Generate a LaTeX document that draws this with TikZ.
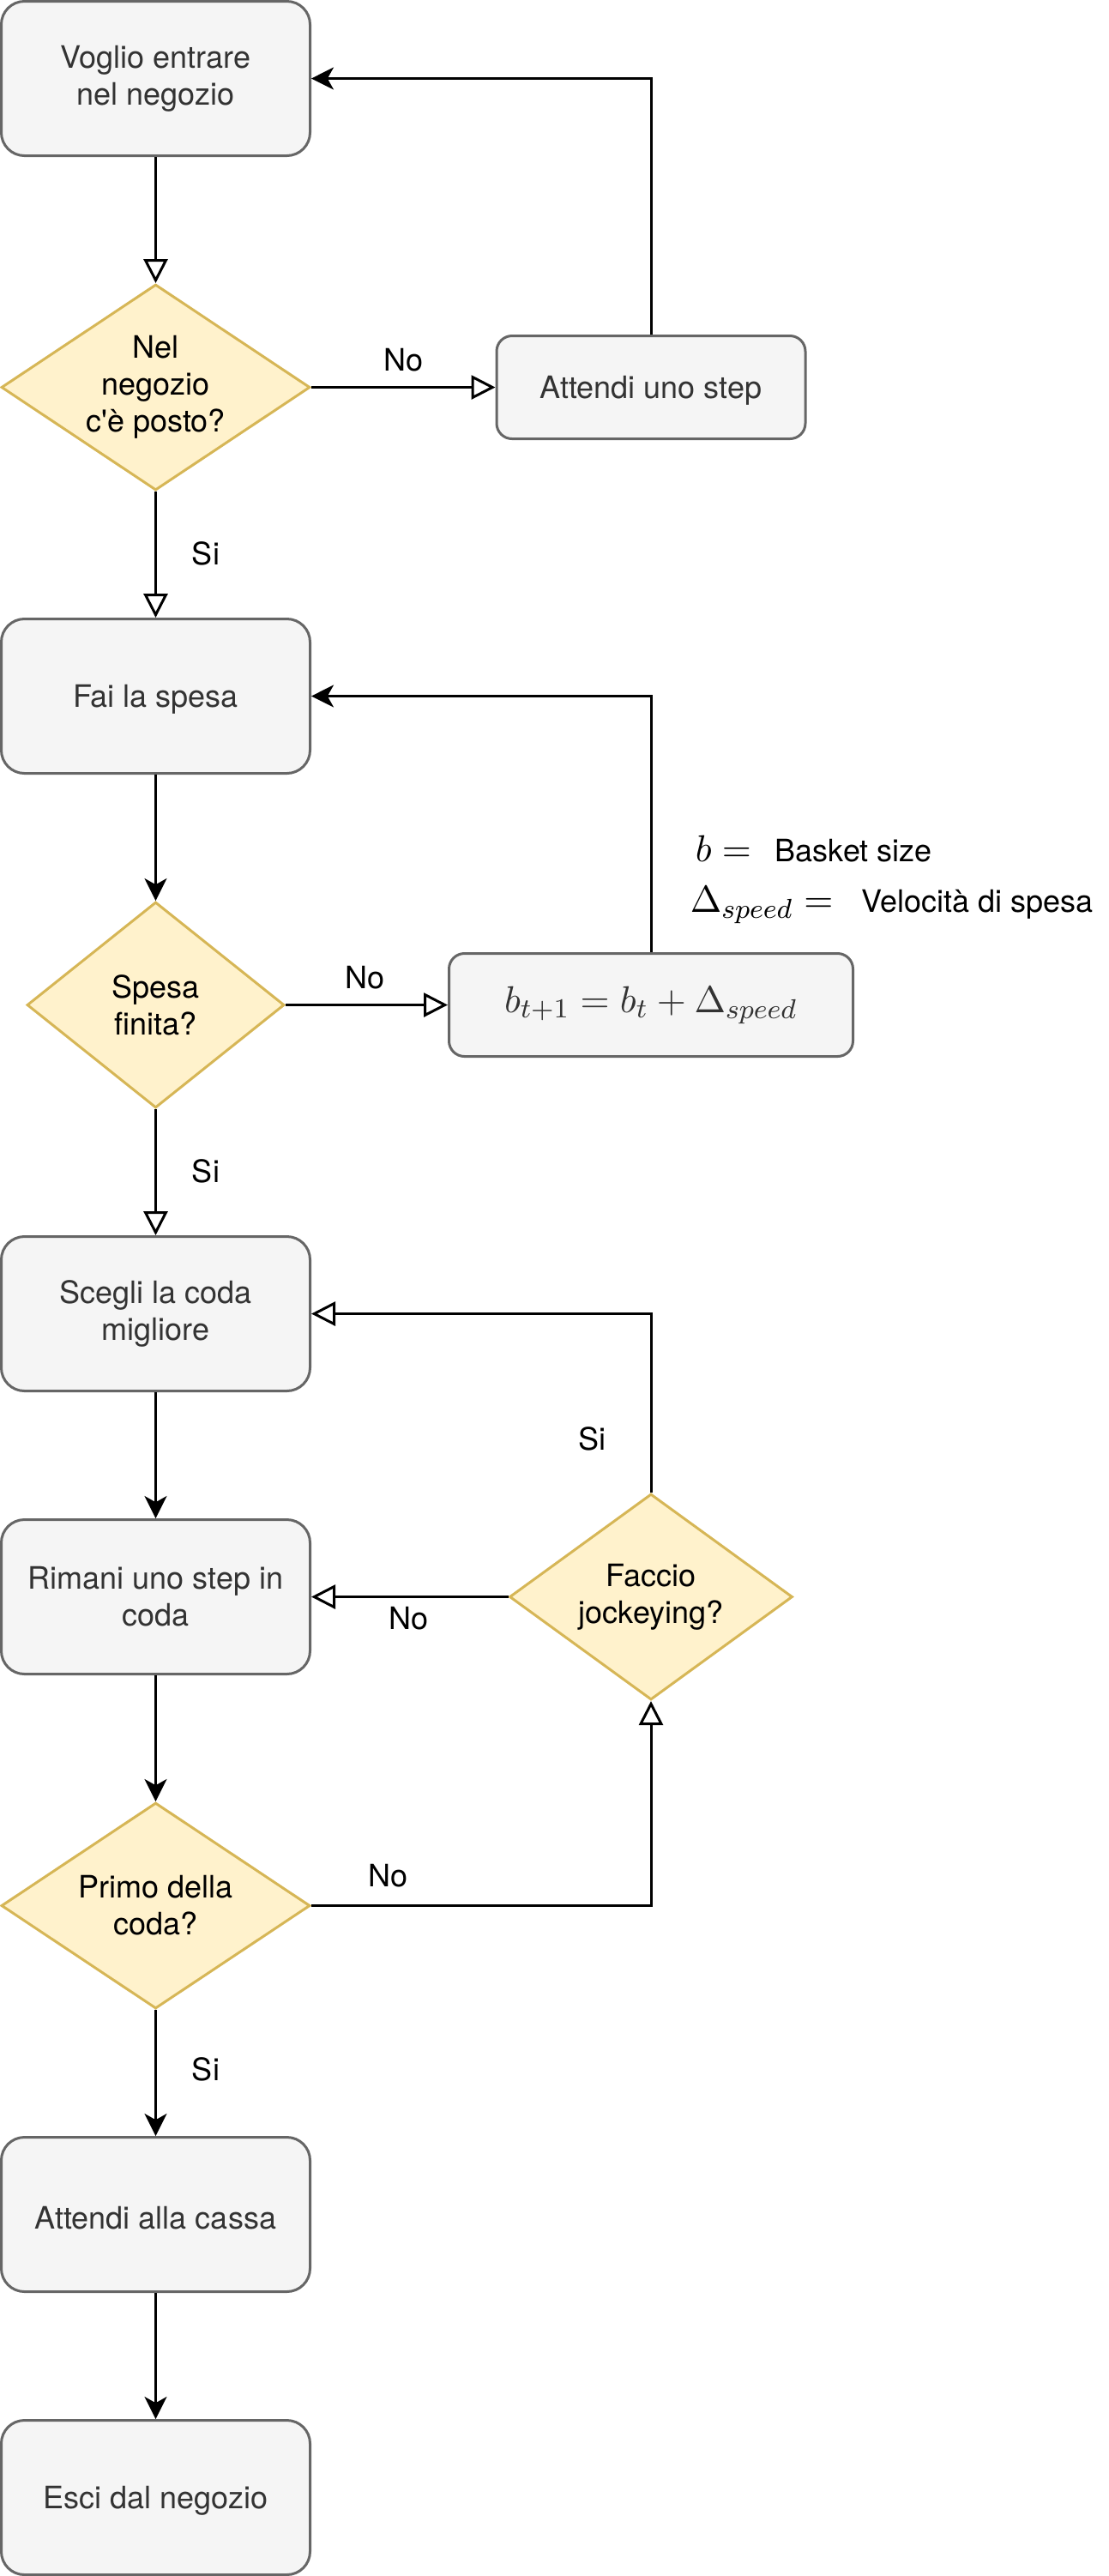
\documentclass[tikz,border=0pt]{standalone}
\usepackage[no-math]{fontspec}
\setmainfont{TeX Gyre Heros}
\usetikzlibrary{shapes.geometric,arrows.meta}
\definecolor{boxfill}{HTML}{F5F5F5}
\definecolor{boxline}{HTML}{666666}
\definecolor{boxtext}{HTML}{333333}
\definecolor{askfill}{HTML}{FFF2CC}
\definecolor{askline}{HTML}{D6B656}
\newcommand{\flowfont}{\fontsize{9pt}{10.8pt}\selectfont}
\newcommand{\mathsize}{\fontsize{10.9pt}{13pt}\selectfont}
\tikzset{
  stepbox/.style={draw=boxline, fill=boxfill, text=boxtext, line width=0.75pt,
    rounded corners=6.75pt, minimum width=90pt, minimum height=45pt,
    inner sep=0pt, align=center, font=\flowfont,
    execute at begin node={\rule{0pt}{8.6pt}}},
  smallbox/.style={stepbox, rounded corners=4.5pt, minimum height=30pt},
  mathbox/.style={draw=boxline, fill=boxfill, text=boxtext, line width=0.75pt,
    rounded corners=4.5pt, minimum width=117.75pt, minimum height=30pt,
    inner sep=0pt, font=\mathsize},
  askbox/.style={diamond, aspect=1.5, draw=askline, fill=askfill, line width=0.75pt,
    minimum width=90pt, minimum height=60pt, inner sep=0pt, align=center, font=\flowfont},
  lbl/.style={font=\flowfont, inner sep=0pt},
  openarr/.style={-{Triangle[open,length=7pt,width=7pt]}, line width=0.75pt},
  fillarr/.style={-{Stealth[length=6.5pt,width=6.5pt,inset=1.8pt]}, line width=0.75pt}
}
\begin{document}
\begin{tikzpicture}[x=0.75pt,y=-0.75pt]
  \useasboundingbox (0,0) rectangle (431,1001);
  \node[stepbox] (entra) at (60.5,30.5) {Voglio entrare\\nel negozio};
  \node[askbox] (posto) at (60.5,150.5) {Nel\\negozio\\c\textquotesingle è posto?};
  \node[smallbox] (attendi) at (253,150.5) {Attendi uno step};
  \node[stepbox] (spesa) at (60.5,270.5) {Fai la spesa};
  \node[askbox, minimum width=75pt] (finita) at (60.5,390.5) {Spesa\\finita?};
  \node[mathbox] (basket) at (253,390.5) {$b_{t+1} = b_t + \Delta_{speed}$};
  \node[stepbox] (scegli) at (60.5,510.5) {Scegli la coda\\migliore};
  \node[stepbox] (rimani) at (60.5,620.5) {Rimani uno step in\\coda};
  \node[askbox, minimum width=82.5pt] (jockey) at (253,620.5) {Faccio\\jockeying?};
  \node[askbox] (primo) at (60.5,740.5) {Primo della\\coda?};
  \node[stepbox] (cassa) at (60.5,860.5) {Attendi alla cassa};
  \node[stepbox] (esci) at (60.5,970.5) {Esci dal negozio};

  \node[lbl, anchor=base west] (legb) at (270,334.8)
    {\mathsize$b=$\hspace{7pt}\flowfont Basket size};
  \node[lbl, anchor=base west] (legd) at (268,354.6)
    {\mathsize$\Delta_{speed}=$\hspace{8.3pt}\flowfont Velocità di spesa};

  \node[lbl] (no1) at (157,140) {No};
  \node[lbl] (si1) at (80,215) {Si};
  \node[lbl] (no2) at (142,380) {No};
  \node[lbl] (si2) at (80,455) {Si};
  \node[lbl] (si3) at (230,559) {Si};
  \node[lbl] (no3) at (159,629) {No};
  \node[lbl] (no4) at (151,729) {No};
  \node[lbl] (si4) at (80,804) {Si};

  \begin{scope}[openarr]
    \draw (entra) to (posto);
    \draw (posto) to (attendi);
    \draw (posto) to (spesa);
    \draw (finita) to (basket);
    \draw (finita) to (scegli);
    \draw (jockey) to (rimani);
    \draw (jockey.north) |- (scegli.east);
    \draw (primo.east) -| (jockey.south);
  \end{scope}
  \begin{scope}[fillarr]
    \draw (attendi.north) |- (entra.east);
    \draw (spesa) to (finita);
    \draw (basket.north) |- (spesa.east);
    \draw (scegli) to (rimani);
    \draw (rimani) to (primo);
    \draw (primo) to (cassa);
    \draw (cassa) to (esci);
  \end{scope}
\end{tikzpicture}
\end{document}
